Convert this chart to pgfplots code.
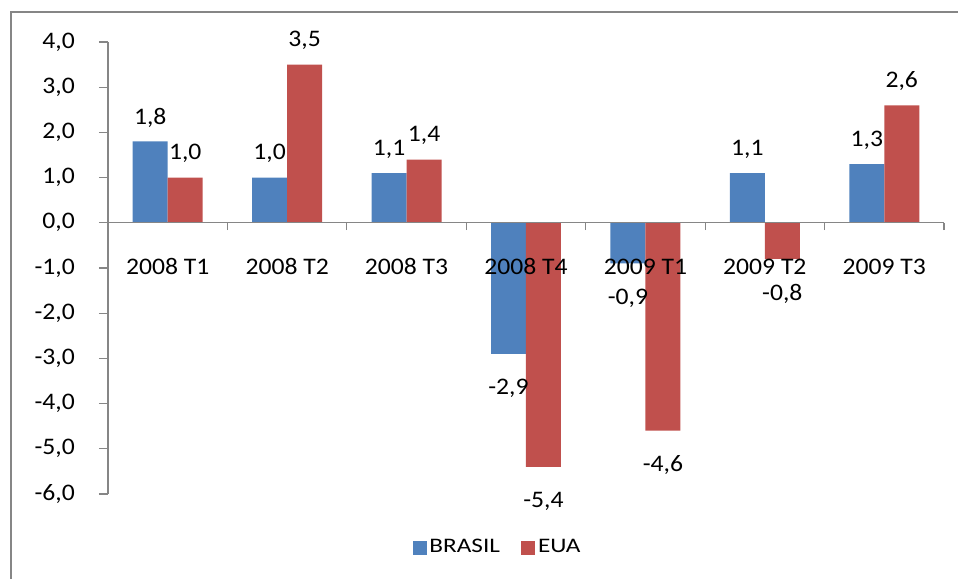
\documentclass[border=0pt]{standalone}
\usepackage{fontspec}
\setmainfont{Carlito}[FakeStretch=1.08]
\newfontfamily\legfont{Carlito}[FakeStretch=1.22]
\usepackage{pgfplots}
\pgfplotsset{compat=1.18}
\definecolor{cbr}{HTML}{4F81BD}
\definecolor{cus}{HTML}{C0504D}
\definecolor{axgray}{HTML}{868686}
\newcommand{\lf}{\legfont\fontsize{15.5pt}{18pt}\selectfont}
\begin{document}%
\fontsize{17.8pt}{20pt}\selectfont%
\pgfkeys{/pgf/number format/.cd, fixed, fixed zerofill, precision=1, use comma, assume math mode=true}%
\begin{tikzpicture}
\useasboundingbox (0,0) rectangle (718.5pt,434.25pt);
\begin{axis}[
  at={(81pt,63.75pt)}, anchor=south west,
  scale only axis, width=627pt, height=339pt,
  xmin=-0.5, xmax=6.5, ymin=-6, ymax=4,
  ybar, bar width=0.293,
  axis on top,
  axis x line*=middle, axis y line*=left,
  axis line style={axgray, line width=0.9pt},
  xtick={0,...,6},
  xticklabels={2008 T1,2008 T2,2008 T3,2008 T4,2009 T1,2009 T2,2009 T3},
  major x tick style={draw=none},
  minor xtick={0.5,1.5,...,6.5},
  minor tick length=5.5pt,
  ytick={-6,...,4},
  major tick length=6.75pt,
  tick align=outside,
  tick style={axgray, line width=0.9pt},
  xticklabel style={anchor=center, yshift=-26pt},
  yticklabel style={anchor=east, xshift=-12pt},
  nodes near coords,
  visualization depends on={y \as \rawy},
  every node near coord/.append style={anchor=center, yshift={ifthenelse(\rawy>0,18,-26)}, text=black},
  legend style={at={(0.4665,-0.1195)}, anchor=center, draw=none, legend columns=2,
    /tikz/every even column/.append style={column sep=14pt}},
  legend image code/.code={\fill[#1] (0pt,-5.25pt) rectangle (10.5pt,5.25pt);},
]
\addplot[bar shift=-0.1465, fill=cbr, draw=none]
  coordinates {(0,1.8) (1,1.0) (2,1.1) (3,-2.9) (4,-0.9) (5,1.1) (6,1.3)};
\addplot[bar shift=0.1465, fill=cus, draw=none]
  coordinates {(0,1.0) (1,3.5) (2,1.4) (3,-5.4) (4,-4.6) (5,-0.8) (6,2.6)};
\legend{{\lf BRASIL}, {\lf EUA}}
\end{axis}
\draw[axgray, line width=1.7pt] (8.25pt,0pt) -- (8.25pt,425.25pt) -- (718.5pt,425.25pt);
\end{tikzpicture}%
\end{document}
